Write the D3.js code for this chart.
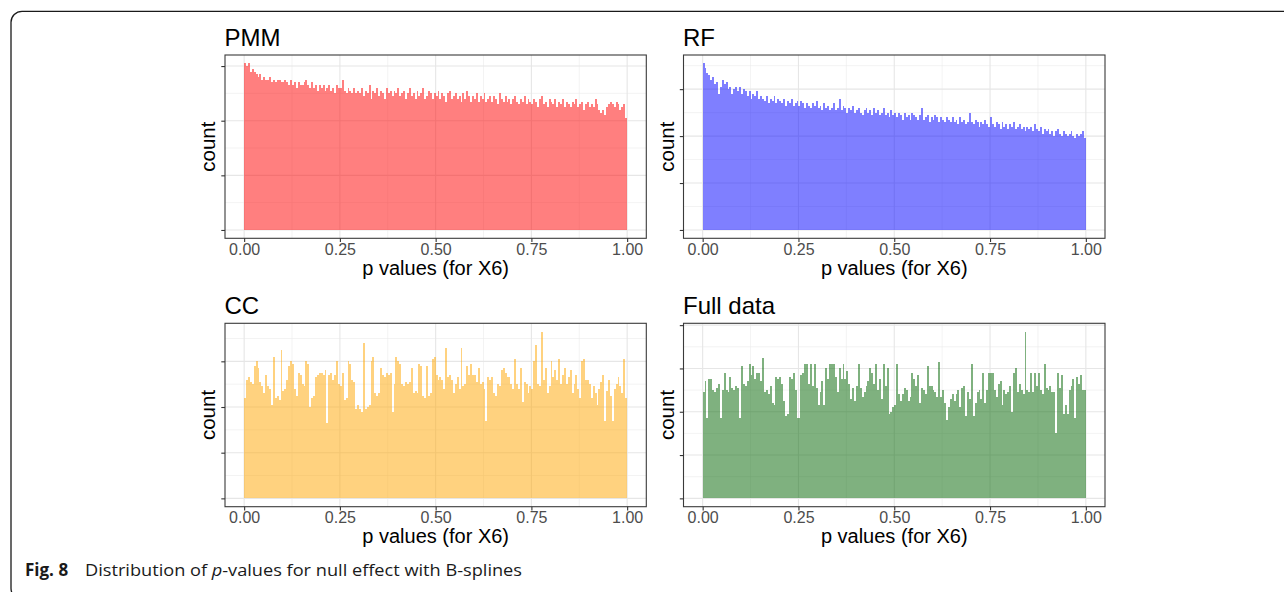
<!DOCTYPE html>
<html>
<head>
<meta charset="utf-8">
<script src="https://cdn.jsdelivr.net/npm/d3@7"></script>
<style>
  html, body { margin: 0; padding: 0; background: #fff; }
  svg { display: block; }
</style>
</head>
<body>
<svg id="chart" width="1284" height="592"></svg>
<script>
// Panel titles, fills and axis labels
const panelTitles = ["PMM", "RF", "CC", "Full data"];
const panelColors = ["#ff0000", "#0000ff", "#ffa500", "#006400"];
const xTickValues = [0, 0.25, 0.5, 0.75, 1];
const xTickLabels = ["0.00", "0.25", "0.50", "0.75", "1.00"];
const xMinorValues = [0.125, 0.375, 0.625, 0.875];
const yTickValues = [0, 20, 40, 60, 80];
const yMinorValues = [10, 30, 50, 70];
const xTitle = "p values (for X6)";
const yTitle = "count";

// Histogram counts, 200 equal bins on [0, 1]
const pmmCounts = [
  61, 60, 61, 58, 59, 58, 57, 56, 57, 55,
  56, 55, 55, 56, 54, 55, 54, 55, 55, 54,
  54, 55, 54, 53, 55, 53, 54, 52, 54, 53,
  53, 54, 55, 53, 52, 54, 52, 53, 51, 53,
  52, 53, 51, 52, 53, 51, 52, 50, 53, 52,
  52, 55, 51, 50, 52, 51, 50, 52, 50, 51,
  50, 52, 49, 51, 50, 53, 48, 51, 50, 52,
  49, 51, 50, 48, 52, 50, 51, 49, 51, 50,
  52, 49, 50, 51, 48, 50, 52, 49, 50, 48,
  51, 49, 50, 52, 48, 49, 51, 50, 48, 50,
  49, 51, 48, 50, 49, 47, 50, 51, 48, 49,
  50, 48, 49, 47, 50, 48, 51, 49, 47, 49,
  48, 50, 47, 49, 48, 50, 47, 48, 49, 47,
  49, 48, 46, 50, 48, 47, 49, 47, 48, 46,
  48, 49, 47, 46, 48, 47, 49, 46, 48, 47,
  46, 48, 47, 45, 48, 49, 46, 47, 45, 48,
  47, 46, 48, 45, 47, 46, 48, 45, 47, 46,
  45, 47, 46, 48, 45, 46, 47, 44, 46, 47,
  45, 46, 45, 48, 46, 44, 43, 44, 42, 45,
  46, 47, 46, 45, 47, 46, 44, 45, 46, 41
];

const rfCounts = [
  71, 69, 67, 66, 64, 65, 62, 63, 58, 61,
  64, 62, 63, 60, 61, 58, 60, 61, 59, 61,
  58, 60, 59, 57, 59, 56, 58, 57, 59, 56,
  57, 56, 55, 57, 54, 56, 55, 57, 54, 56,
  55, 54, 56, 53, 55, 54, 56, 53, 54, 55,
  53, 55, 54, 52, 54, 53, 52, 54, 53, 55,
  52, 53, 51, 54, 52, 53, 51, 52, 54, 51,
  52, 56, 51, 53, 52, 50, 52, 51, 53, 50,
  51, 52, 50, 49, 51, 52, 50, 51, 49, 52,
  50, 51, 49, 50, 52, 49, 50, 48, 51, 49,
  50, 48, 50, 49, 47, 50, 48, 49, 47, 50,
  49, 48, 47, 49, 52, 47, 48, 49, 46, 48,
  47, 49, 48, 46, 48, 47, 46, 48, 47, 46,
  48, 46, 47, 45, 48, 46, 47, 45, 46, 50,
  46, 45, 47, 46, 44, 46, 45, 47, 45, 44,
  48, 45, 44, 46, 45, 43, 46, 44, 45, 43,
  45, 44, 46, 43, 44, 45, 43, 44, 42, 44,
  43, 44, 42, 45, 43, 42, 44, 41, 43, 42,
  43, 41, 42, 40, 42, 43, 41, 40, 42, 41,
  40, 41, 42, 40, 39, 41, 40, 41, 42, 39
];

const ccCounts = [
  44, 52, 53, 51, 50, 58, 60, 57, 51, 49,
  46, 54, 49, 48, 41, 62, 44, 45, 43, 65,
  47, 48, 52, 58, 60, 59, 48, 45, 55, 54,
  50, 49, 60, 59, 40, 44, 45, 53, 54, 55,
  55, 54, 56, 33, 54, 55, 52, 54, 60, 50,
  49, 55, 43, 44, 60, 59, 52, 51, 39, 41,
  39, 38, 68, 39, 40, 41, 60, 62, 46, 45,
  46, 57, 54, 53, 55, 54, 55, 38, 50, 62,
  60, 59, 50, 49, 51, 50, 51, 57, 46, 47,
  46, 59, 58, 45, 44, 58, 45, 46, 61, 62,
  54, 52, 53, 52, 48, 66, 53, 54, 52, 46,
  50, 53, 48, 66, 49, 50, 58, 54, 59, 54,
  54, 51, 57, 50, 51, 48, 34, 53, 52, 53,
  46, 45, 50, 49, 56, 57, 55, 53, 53, 50,
  48, 61, 50, 48, 57, 42, 51, 50, 46, 49,
  48, 60, 67, 50, 49, 73, 52, 57, 46, 49,
  60, 53, 56, 52, 61, 50, 54, 57, 50, 53,
  56, 46, 50, 54, 48, 44, 60, 61, 52, 52,
  50, 44, 49, 46, 41, 48, 51, 54, 34, 47,
  52, 45, 34, 48, 50, 53, 49, 46, 61, 44
];

const fullCounts = [
  49, 54, 37, 55, 55, 50, 49, 51, 53, 37,
  50, 58, 50, 49, 56, 51, 50, 52, 51, 37,
  61, 53, 52, 54, 62, 57, 61, 55, 58, 58,
  54, 65, 49, 50, 48, 52, 44, 43, 56, 55,
  56, 53, 45, 38, 39, 56, 55, 58, 50, 37,
  37, 57, 58, 62, 62, 53, 62, 52, 62, 51,
  43, 49, 54, 43, 60, 55, 62, 62, 62, 56,
  49, 60, 55, 62, 55, 59, 53, 46, 51, 45,
  52, 62, 51, 47, 49, 52, 54, 60, 58, 53,
  62, 50, 55, 46, 62, 52, 60, 39, 40, 42,
  43, 62, 48, 45, 48, 51, 50, 45, 47, 58,
  55, 52, 57, 44, 51, 50, 48, 61, 52, 52,
  50, 49, 47, 63, 47, 50, 44, 36, 42, 46,
  48, 45, 48, 50, 42, 51, 52, 38, 49, 46,
  62, 38, 44, 49, 50, 46, 58, 44, 50, 58,
  58, 58, 50, 47, 53, 54, 43, 50, 48, 49,
  52, 40, 58, 60, 49, 53, 50, 48, 77, 50,
  49, 58, 49, 58, 52, 58, 50, 48, 62, 51,
  50, 52, 49, 49, 30, 58, 51, 57, 39, 43,
  39, 50, 52, 55, 37, 56, 53, 57, 50, 50
];

const panelCounts = [pmmCounts, rfCounts, ccCounts, fullCounts];

// Panel boxes in the 2x2 grid
const panelBoxes = [
  { left: 225,   right: 646.3, top: 55,    bottom: 238.3 },
  { left: 683.5, right: 1105,  top: 55,    bottom: 238.3 },
  { left: 225,   right: 646.3, top: 323.3, bottom: 506.7 },
  { left: 683.5, right: 1105,  top: 323.3, bottom: 506.7 }
];

const FONT = "'Liberation Sans', Arial, Helvetica, sans-serif";
const svg = d3.select("#chart");

// Outer figure frame (rounded top-left, runs off right and bottom)
svg.append("rect")
  .attr("x", 11).attr("y", 11.3)
  .attr("width", 1400).attr("height", 588)
  .attr("rx", 11).attr("ry", 11)
  .attr("fill", "none")
  .attr("stroke", "#1a1a1a")
  .attr("stroke-width", 1.3);

panelTitles.forEach((title, p) => {
  const box = panelBoxes[p];
  const counts = panelCounts[p];
  const maxCount = d3.max(counts);
  const nBins = counts.length;

  const x = d3.scaleLinear().domain([-0.05, 1.05]).range([box.left, box.right]);
  const y = d3.scaleLinear().domain([-0.05 * maxCount, 1.05 * maxCount]).range([box.bottom, box.top]);
  const [yLo, yHi] = y.domain();
  const yTicks = yTickValues.filter(v => v >= yLo && v <= yHi);
  const yMinor = yMinorValues.filter(v => v >= yLo && v <= yHi);

  const g = svg.append("g");

  // panel background
  g.append("rect")
    .attr("x", box.left).attr("y", box.top)
    .attr("width", box.right - box.left).attr("height", box.bottom - box.top)
    .attr("fill", "#fff");

  // minor grid
  g.selectAll(".vminor").data(xMinorValues).join("line")
    .attr("x1", d => x(d)).attr("x2", d => x(d))
    .attr("y1", box.top).attr("y2", box.bottom)
    .attr("stroke", "#ebebeb").attr("stroke-width", 0.6);
  g.selectAll(".hminor").data(yMinor).join("line")
    .attr("x1", box.left).attr("x2", box.right)
    .attr("y1", d => y(d)).attr("y2", d => y(d))
    .attr("stroke", "#ebebeb").attr("stroke-width", 0.6);

  // major grid
  g.selectAll(".vmajor").data(xTickValues).join("line")
    .attr("x1", d => x(d)).attr("x2", d => x(d))
    .attr("y1", box.top).attr("y2", box.bottom)
    .attr("stroke", "#e6e6e6").attr("stroke-width", 1.1);
  g.selectAll(".hmajor").data(yTicks).join("line")
    .attr("x1", box.left).attr("x2", box.right)
    .attr("y1", d => y(d)).attr("y2", d => y(d))
    .attr("stroke", "#e6e6e6").attr("stroke-width", 1.1);

  // histogram bars
  g.append("g")
    .attr("shape-rendering", "crispEdges")
    .selectAll("rect").data(counts).join("rect")
    .attr("x", (d, i) => x(i / nBins))
    .attr("width", (d, i) => x((i + 1) / nBins) - x(i / nBins))
    .attr("y", d => y(d))
    .attr("height", d => y(0) - y(d))
    .attr("fill", panelColors[p])
    .attr("fill-opacity", 0.5);

  // panel border
  g.append("rect")
    .attr("x", box.left).attr("y", box.top)
    .attr("width", box.right - box.left).attr("height", box.bottom - box.top)
    .attr("fill", "none")
    .attr("stroke", "#3a3a3a").attr("stroke-width", 1.1);

  // axes
  const xAxis = g.append("g")
    .attr("transform", `translate(0,${box.bottom})`)
    .call(d3.axisBottom(x).tickValues(xTickValues)
      .tickFormat((d, i) => xTickLabels[i]).tickSize(3.7).tickPadding(1.5));
  const yAxis = g.append("g")
    .attr("transform", `translate(${box.left},0)`)
    .call(d3.axisLeft(y).tickValues(yTicks).tickFormat("").tickSize(3.7));
  [xAxis, yAxis].forEach(a => {
    a.select(".domain").remove();
    a.selectAll(".tick line").attr("stroke", "#333").attr("stroke-width", 1.1);
    a.selectAll(".tick text")
      .attr("fill", "#4d4d4d")
      .style("font-family", FONT)
      .style("font-size", "16px");
  });

  // panel title
  g.append("text")
    .attr("x", box.left - 0.5).attr("y", box.top - 9)
    .attr("fill", "#000")
    .style("font-family", FONT).style("font-size", "24px")
    .text(title);

  // axis titles
  g.append("text")
    .attr("x", (box.left + box.right) / 2).attr("y", box.bottom + 36.5)
    .attr("text-anchor", "middle")
    .attr("fill", "#000")
    .style("font-family", FONT).style("font-size", "20px")
    .text(xTitle);
  g.append("text")
    .attr("transform", `translate(${box.left - 10},${(box.top + box.bottom) / 2}) rotate(-90)`)
    .attr("text-anchor", "middle")
    .attr("fill", "#000")
    .style("font-family", FONT).style("font-size", "20.5px")
    .text(yTitle);
});

// Figure caption
const CAP_FONT = "'Open Sans', 'Noto Sans', sans-serif";
svg.append("text")
  .attr("x", 25).attr("y", 576)
  .attr("fill", "#1a1a1a")
  .style("font-family", CAP_FONT).style("font-size", "17px").style("font-weight", "bold")
  .text("Fig. 8");
const cap = svg.append("text")
  .attr("x", 85).attr("y", 576)
  .attr("textLength", 437).attr("lengthAdjust", "spacingAndGlyphs")
  .attr("fill", "#1a1a1a")
  .style("font-family", CAP_FONT).style("font-size", "16px");
cap.append("tspan").text("Distribution of ");
cap.append("tspan").style("font-style", "italic").text("p");
cap.append("tspan").text("-values for null effect with B-splines");
</script>
</body>
</html>
